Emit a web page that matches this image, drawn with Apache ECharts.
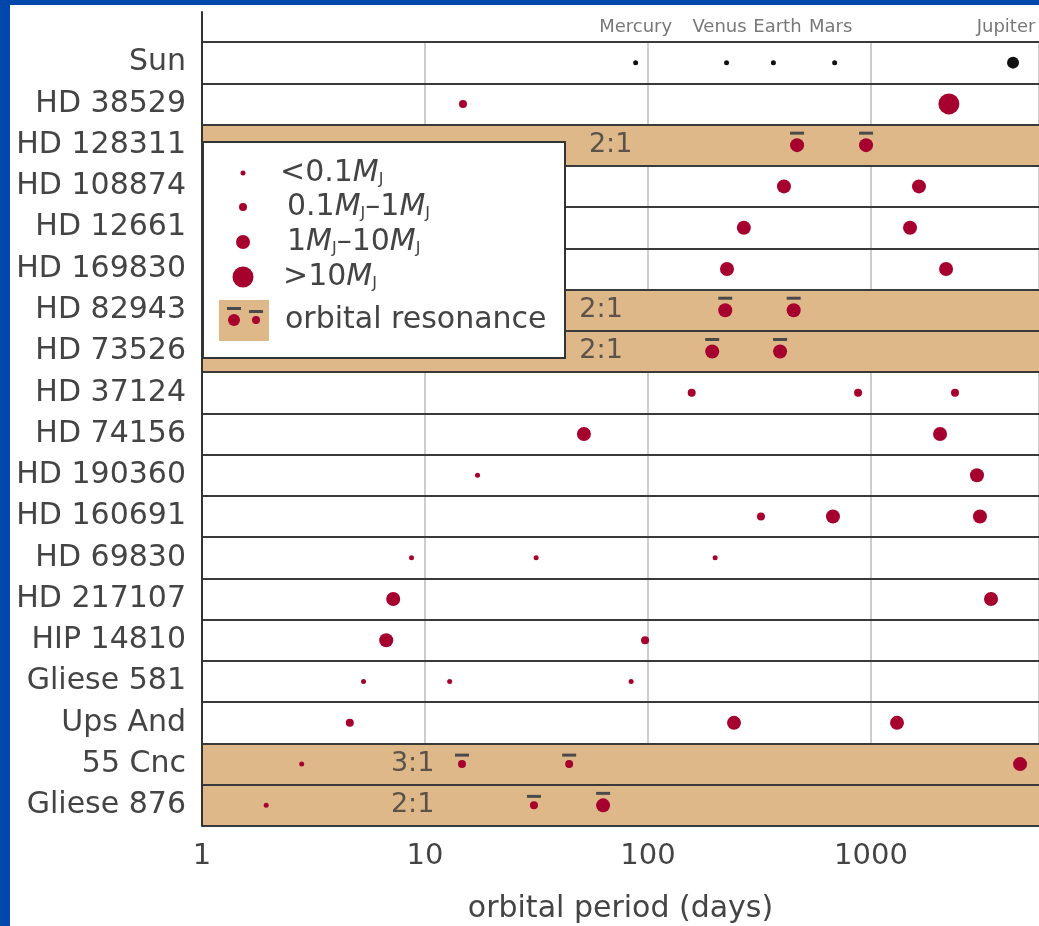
<!DOCTYPE html>
<html>
<head>
<meta charset="utf-8">
<script src="https://cdn.jsdelivr.net/npm/echarts@6/dist/echarts.min.js"></script>
<style>
  html, body { margin: 0; padding: 0; width: 1039px; height: 926px; background: #0047ab; overflow: hidden; }
  #chart { position: absolute; left: 10px; top: 5px; width: 1029px; height: 921px; background: #ffffff; }
</style>
</head>
<body>
<div id="chart"></div>
<script>
// ---------------- DATA ----------------
const stars = ['Sun', 'HD 38529', 'HD 128311', 'HD 108874', 'HD 12661', 'HD 169830', 'HD 82943',
  'HD 73526', 'HD 37124', 'HD 74156', 'HD 190360', 'HD 160691', 'HD 69830', 'HD 217107',
  'HIP 14810', 'Gliese 581', 'Ups And', '55 Cnc', 'Gliese 876'];

const resonantStars = ['HD 128311', 'HD 82943', 'HD 73526', '55 Cnc', 'Gliese 876'];
const resonanceRatios = ['2:1', '2:1', '2:1', '3:1', '2:1'];
const resonanceLabelPeriods = [68, 61.6, 61.6, 8.8, 8.8];

// Solar system planets (orbital period in days)
const solarPlanets = ['Mercury', 'Venus', 'Earth', 'Mars', 'Jupiter'];
const solarPeriods = [88, 225, 365, 687, 4333];
const solarIsGiant = [0, 0, 0, 0, 1];

// Exoplanets by mass class: [period (days), star, resonant flag]
const planetsBelow01MJ = [
  [17.2, 'HD 190360', 0],
  [8.7, 'HD 69830', 0], [31.5, 'HD 69830', 0], [200, 'HD 69830', 0],
  [5.3, 'Gliese 581', 0], [12.9, 'Gliese 581', 0], [84, 'Gliese 581', 0],
  [2.8, '55 Cnc', 0],
  [1.94, 'Gliese 876', 0]
];
const planets01to1MJ = [
  [14.8, 'HD 38529', 0],
  [157, 'HD 37124', 0], [875, 'HD 37124', 0], [2380, 'HD 37124', 0],
  [321, 'HD 160691', 0],
  [97, 'HIP 14810', 0],
  [4.6, 'Ups And', 0],
  [14.65, '55 Cnc', 1], [44.3, '55 Cnc', 1],
  [30.8, 'Gliese 876', 1]
];
const planets1to10MJ = [
  [466, 'HD 128311', 1], [950, 'HD 128311', 1],
  [407, 'HD 108874', 0], [1641, 'HD 108874', 0],
  [269, 'HD 12661', 0], [1496, 'HD 12661', 0],
  [226, 'HD 169830', 0], [2170, 'HD 169830', 0],
  [222, 'HD 82943', 1], [450, 'HD 82943', 1],
  [194, 'HD 73526', 1], [391, 'HD 73526', 1],
  [51.6, 'HD 74156', 0], [2040, 'HD 74156', 0],
  [2986, 'HD 190360', 0],
  [675, 'HD 160691', 0], [3080, 'HD 160691', 0],
  [7.2, 'HD 217107', 0], [3452, 'HD 217107', 0],
  [6.7, 'HIP 14810', 0],
  [243, 'Ups And', 0], [1308, 'Ups And', 0],
  [4660, '55 Cnc', 0],
  [62.9, 'Gliese 876', 1]
];
const planetsAbove10MJ = [
  [2235, 'HD 38529', 0]
];

const xTickValues = [1, 10, 100, 1000];
const xMin = 1, xMax = 5666;

// ---------------- STYLE ----------------
const FONT = '"DejaVu Sans", "Liberation Sans", sans-serif';
const RED = '#a6002e';
const TAN = '#dfb88a';
const TEXT = '#444444';
const classSizes = [5, 8, 14, 21];
const planetLabelOffsets = [[0, 0], [-7, 0], [4, 0], [-4, 0], [-7, 0]];

const classData = [planetsBelow01MJ, planets01to1MJ, planets1to10MJ, planetsAbove10MJ];

const series = [];

// resonance bands
series.push({
  type: 'bar', xAxisIndex: 0, yAxisIndex: 0, silent: true, z: 1,
  barWidth: '100%', barGap: '-100%',
  itemStyle: { color: TAN, opacity: 1 },
  data: stars.map(s => resonantStars.includes(s) ? xMax : '-')
});

// resonance ratio labels
series.push({
  type: 'scatter', xAxisIndex: 0, yAxisIndex: 0, silent: true, z: 6,
  symbolSize: 0,
  data: resonantStars.map((s, i) => ({ value: [resonanceLabelPeriods[i], s], ratio: resonanceRatios[i] })),
  label: {
    show: true, position: 'inside',
    formatter: p => p.data.ratio,
    fontFamily: FONT, fontSize: 27, color: '#3a3a3a'
  }
});

// solar system planets
series.push({
  type: 'scatter', xAxisIndex: 0, yAxisIndex: 0, silent: true, z: 6,
  itemStyle: { color: '#111111', opacity: 1 },
  data: solarPeriods.map((p, i) => ({ value: [p, 'Sun'], symbolSize: solarIsGiant[i] ? 12 : 5 }))
});

// planet names above
series.push({
  type: 'scatter', xAxisIndex: 1, yAxisIndex: 1, silent: true, z: 6,
  symbolSize: 0,
  data: solarPeriods.map((p, i) => ({ value: [p, ''], name: solarPlanets[i] })),
  label: {
    show: true, position: 'inside',
    formatter: p => p.name,
    fontFamily: FONT, fontSize: 18, color: '#555'
  },
  labelLayout: p => ({ dx: planetLabelOffsets[p.dataIndex][0], dy: planetLabelOffsets[p.dataIndex][1] })
});

// exoplanets
classData.forEach((arr, ci) => {
  series.push({
    type: 'scatter', xAxisIndex: 0, yAxisIndex: 0, silent: true, z: 6,
    symbolSize: classSizes[ci],
    itemStyle: { color: RED, opacity: 1 },
    data: arr.map(d => [d[0], d[1]])
  });
  const res = arr.filter(d => d[2]);
  if (res.length) {
    series.push({
      type: 'scatter', xAxisIndex: 0, yAxisIndex: 0, silent: true, z: 6,
      symbol: 'rect', symbolSize: [14, 3],
      itemStyle: { color: '#4a4a4a', opacity: 1 },
      data: res.map(d => ({ value: [d[0], d[1]], symbolOffset: [0, -Math.round(classSizes[ci] / 2 + 5)] }))
    });
  }
});

// ---------------- LEGEND (graphic) ----------------
const LX = 193, LY = 137; // legend box position within chart div
const legendRich = {
  t: { fontFamily: FONT, fontSize: 30, color: TEXT },
  m: { fontFamily: FONT, fontSize: 30, color: TEXT, fontStyle: 'italic' },
  j: { fontFamily: FONT, fontSize: 16, color: TEXT, verticalAlign: 'bottom' }
};
function legendText(x, y, text) {
  return { type: 'text', x: x, y: y, z: 101,
    style: { text: text, rich: legendRich, verticalAlign: 'middle', align: 'left', fill: TEXT } };
}
const legendGroup = {
  type: 'group', z: 100,
  children: [
    { type: 'rect', shape: { x: LX, y: LY, width: 362, height: 216 }, z: 100,
      style: { fill: '#fff', stroke: '#333', lineWidth: 2 } },
    { type: 'circle', shape: { cx: LX + 40, cy: LY + 31, r: classSizes[0] / 2 }, z: 101, style: { fill: RED } },
    { type: 'circle', shape: { cx: LX + 40, cy: LY + 65, r: classSizes[1] / 2 }, z: 101, style: { fill: RED } },
    { type: 'circle', shape: { cx: LX + 40, cy: LY + 100, r: classSizes[2] / 2 }, z: 101, style: { fill: RED } },
    { type: 'circle', shape: { cx: LX + 40, cy: LY + 135, r: classSizes[3] / 2 }, z: 101, style: { fill: RED } },
    legendText(LX + 77, LY + 31, '{t|<0.1}{m|M}{j|J}'),
    legendText(LX + 84, LY + 65, '{t|0.1}{m|M}{j|J}{t|–1}{m|M}{j|J}'),
    legendText(LX + 84, LY + 100, '{t|1}{m|M}{j|J}{t|–10}{m|M}{j|J}'),
    legendText(LX + 80, LY + 135, '{t|>10}{m|M}{j|J}'),
    { type: 'rect', shape: { x: LX + 16, y: LY + 158, width: 50, height: 41 }, z: 101, style: { fill: TAN } },
    { type: 'circle', shape: { cx: LX + 31, cy: LY + 178, r: classSizes[2] / 2 - 1 }, z: 102, style: { fill: RED } },
    { type: 'rect', shape: { x: LX + 24, y: LY + 165, width: 14, height: 3 }, z: 102, style: { fill: '#4a4a4a' } },
    { type: 'circle', shape: { cx: LX + 53, cy: LY + 178, r: classSizes[1] / 2 }, z: 102, style: { fill: RED } },
    { type: 'rect', shape: { x: LX + 46, y: LY + 168, width: 14, height: 3 }, z: 102, style: { fill: '#4a4a4a' } },
    legendText(LX + 82, LY + 178, '{t|orbital resonance}')
  ]
};

// ---------------- CHART ----------------
const chart = echarts.init(document.getElementById('chart'), null, { renderer: 'canvas' });
chart.setOption({
  animation: false,
  backgroundColor: '#ffffff',
  grid: [
    { left: 192, top: 37, right: 0, height: 784, containLabel: false, outerBoundsMode: 'none' },
    { left: 192, top: 7, right: 0, height: 30, containLabel: false, outerBoundsMode: 'none' }
  ],
  xAxis: [
    {
      type: 'log', gridIndex: 0, min: xMin, max: xMax, logBase: 10, z: 0,
      axisLine: { show: false }, axisTick: { show: false },
      splitLine: { show: true, lineStyle: { color: '#cdcdcd', width: 2 } },
      axisLabel: {
        fontFamily: FONT, fontSize: 29, color: TEXT, margin: 16,
        showMaxLabel: false,
        formatter: v => (xTickValues.includes(Math.round(v)) ? String(Math.round(v)) : '')
      },
      name: 'orbital period (days)', nameLocation: 'middle', nameGap: 68,
      nameTextStyle: { fontFamily: FONT, fontSize: 30, color: TEXT }
    },
    {
      type: 'log', gridIndex: 1, min: xMin, max: xMax, logBase: 10, show: false
    }
  ],
  yAxis: [
    {
      type: 'category', gridIndex: 0, data: stars, inverse: true, z: 3,
      axisLine: { show: true, lineStyle: { color: '#333', width: 2 } },
      axisTick: { show: false },
      axisLabel: { fontFamily: FONT, fontSize: 30, color: TEXT, margin: 16 },
      splitLine: { show: true, showMinLine: true, showMaxLine: true, lineStyle: { color: '#3a3a3a', width: 2 } }
    },
    {
      type: 'category', gridIndex: 1, data: [''], z: 3,
      axisLine: { show: true, lineStyle: { color: '#333', width: 2 } },
      axisTick: { show: false }, axisLabel: { show: false }, splitLine: { show: false }
    }
  ],
  series: series,
  graphic: [legendGroup]
});
</script>
</body>
</html>
